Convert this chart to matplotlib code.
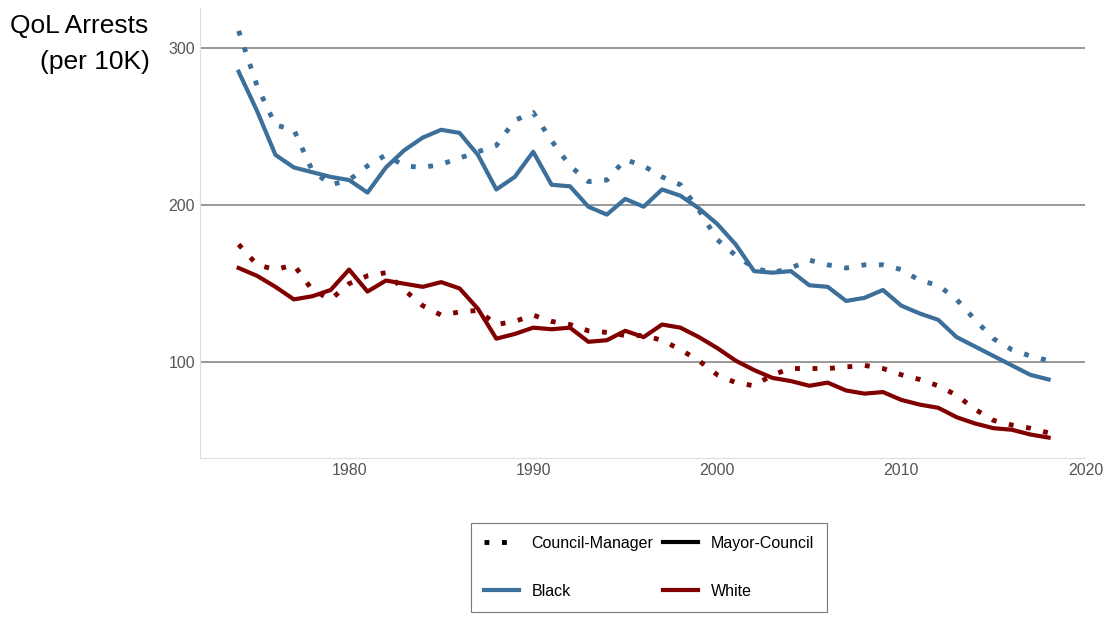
import numpy as np
import matplotlib.pyplot as plt
from matplotlib.lines import Line2D

plt.rcParams['font.family'] = ['Liberation Sans', 'DejaVu Sans']

years = np.arange(1974, 2019)

black_mc = [285, 260, 232, 224, 221, 218, 216, 208, 224, 235, 243, 248, 246, 232, 210,
            218, 234, 213, 212, 199, 194, 204, 199, 210, 206, 198, 188, 175, 158, 157,
            158, 149, 148, 139, 141, 146, 136, 131, 127, 116, 110, 104, 98, 92, 89]
black_cm = [311, 276, 251, 248, 222, 213, 216, 225, 232, 225, 224, 226, 230, 234, 238,
            254, 259, 241, 225, 215, 216, 229, 225, 218, 213, 197, 178, 168, 160, 157,
            160, 165, 162, 160, 162, 162, 159, 152, 149, 140, 127, 115, 108, 104, 101]
white_mc = [160, 155, 148, 140, 142, 146, 159, 145, 152, 150, 148, 151, 147, 134, 115,
            118, 122, 121, 122, 113, 114, 120, 116, 124, 122, 116, 109, 101, 95, 90,
            88, 85, 87, 82, 80, 81, 76, 73, 71, 65, 61, 58, 57, 54, 52]
white_cm = [175, 162, 159, 162, 146, 140, 150, 155, 157, 146, 136, 130, 132, 133, 124,
            126, 130, 126, 124, 120, 119, 117, 117, 114, 108, 101, 92, 87, 85, 92,
            96, 96, 96, 97, 98, 96, 92, 89, 85, 79, 70, 63, 60, 58, 55]

blue = "#3c6f99"
red = "#800000"
dots = (0, (1, 2.6))

fig = plt.figure(figsize=(11.11, 6.2), dpi=100)
ax = fig.add_axes([0.18, 0.261, 0.797, 0.726])

for v in [100, 200, 300]:
    ax.axhline(v, color="#888888", lw=1.2, zorder=0)

ax.plot(years, black_cm, color=blue, lw=3.5, linestyle=dots)
ax.plot(years, black_mc, color=blue, lw=3)
ax.plot(years, white_cm, color=red, lw=3.5, linestyle=dots)
ax.plot(years, white_mc, color=red, lw=3)

ax.set_xlim(1971.9, 2020)
ax.set_ylim(38.9, 325.5)
ax.set_yticks([100, 200, 300])
ax.set_xticks([1980, 1990, 2000, 2010, 2020])
ax.tick_params(length=0, labelsize=11.5, colors="#555555")
for s in ["top", "right"]:
    ax.spines[s].set_visible(False)
for s in ["left", "bottom"]:
    ax.spines[s].set_color("#dddddd")

fig.text(0.009, 0.978, "QoL Arrests", fontsize=19, va="top")
fig.text(0.036, 0.92, "(per 10K)", fontsize=19, va="top")

handles = [Line2D([], [], color="black", lw=3.5, linestyle=dots),
           Line2D([], [], color=blue, lw=3),
           Line2D([], [], color="black", lw=3),
           Line2D([], [], color=red, lw=3)]
labels = ["Council-Manager", "Black", "Mayor-Council", "White"]
leg = fig.legend(handles, labels, ncol=2, loc="center", bbox_to_anchor=(0.584, 0.085),
                 frameon=True, fancybox=False, edgecolor="#555555", fontsize=11.5,
                 labelspacing=2.1, handlelength=2.2, columnspacing=0.6,
                 borderpad=0.8)
leg.get_frame().set_linewidth(0.8)

fig.savefig("out.png")
